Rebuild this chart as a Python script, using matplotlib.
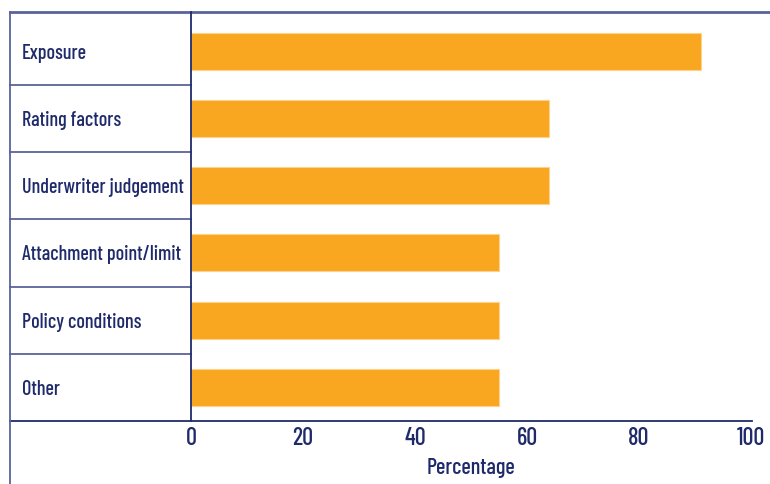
import matplotlib
matplotlib.use("Agg")
import matplotlib.pyplot as plt
from matplotlib import font_manager as fm
from matplotlib.transforms import blended_transform_factory

# ── Data ──────────────────────────────────────────────────────
categories = ["Exposure", "Rating factors", "Underwriter judgement",
              "Attachment point/limit", "Policy conditions", "Other"]
values = [91, 64, 64, 55, 55, 55]
xticks = [0, 20, 40, 60, 80, 100]

# ── Style ─────────────────────────────────────────────────────
BAR   = "#f9a620"
TEXT  = "#1f2a6b"
GRID  = "#5a6399"

# narrow face if one is around, else plain DejaVu
available = {f.name for f in fm.fontManager.ttflist}
family = "DejaVu Sans"
for cand in ["Barlow Condensed", "Liberation Sans Narrow", "Archivo Narrow"]:
    if cand in available:
        family = cand
        break
plt.rcParams["font.family"] = [family, "DejaVu Sans"]
narrow = family != "DejaVu Sans"
lab_fs = 14.5 if narrow else 10.5
tick_fs = 17.5 if narrow else 13

W, H = 770, 484
fig = plt.figure(figsize=(W / 100, H / 100), dpi=100)

# plot box in pixels from top-left: x 191..751, y 17.5..421; top rule at 12
x0, x1, ytop, ybot, yrule = 191, 751, 17.5, 421, 12
ax = fig.add_axes([x0 / W, 1 - ybot / H, (x1 - x0) / W, (ybot - ytop) / H])

n = len(categories)
ypos = list(range(n))
ax.barh(ypos, values, height=0.55, color=BAR, edgecolor="#fdd38c", linewidth=0.8)
ax.set_xlim(0, 100)
ax.set_ylim(n - 0.5, -0.5)

for s in ["top", "right", "bottom", "left"]:
    ax.spines[s].set_visible(False)

ax.set_yticks([])
ax.set_xticks(xticks)
ax.set_xticklabels([str(t) for t in xticks], fontsize=tick_fs, color=TEXT,
                   fontweight="medium")
ax.tick_params(axis="x", length=0, pad=4)
ax.set_xlabel("Percentage", fontsize=tick_fs - 1.5, color=TEXT, labelpad=6,
              fontweight="medium")

def fx(px):
    return px / W

def fy(py):
    return 1 - py / H

# row separators of the label table
row_h = (ybot - ytop) / n
for i in range(1, n):
    y = ytop + i * row_h
    fig.add_artist(plt.Line2D([fx(10), fx(x0)], [fy(y), fy(y)], color=GRID, lw=1.3))
# top rule across the full width
fig.add_artist(plt.Line2D([fx(10), fx(W)], [fy(yrule), fy(yrule)], color=GRID, lw=2.0))
# axis rule at the bottom
fig.add_artist(plt.Line2D([fx(10), fx(x1 + 1)], [fy(ybot), fy(ybot)], color=TEXT, lw=1.3))
# value axis line
fig.add_artist(plt.Line2D([fx(x0), fx(x0)], [fy(yrule), fy(ybot)], color=TEXT, lw=1.3))
# left edge of the table
fig.add_artist(plt.Line2D([fx(10), fx(10)], [fy(yrule), fy(H)], color=GRID, lw=1.3))

# category labels
trans = blended_transform_factory(fig.transFigure, ax.transData)
for i, name in enumerate(categories):
    ax.text(fx(22), i, name, transform=trans, ha="left", va="center_baseline",
            fontsize=lab_fs, color=TEXT, fontweight="medium")

fig.savefig("out.png", dpi=100)
